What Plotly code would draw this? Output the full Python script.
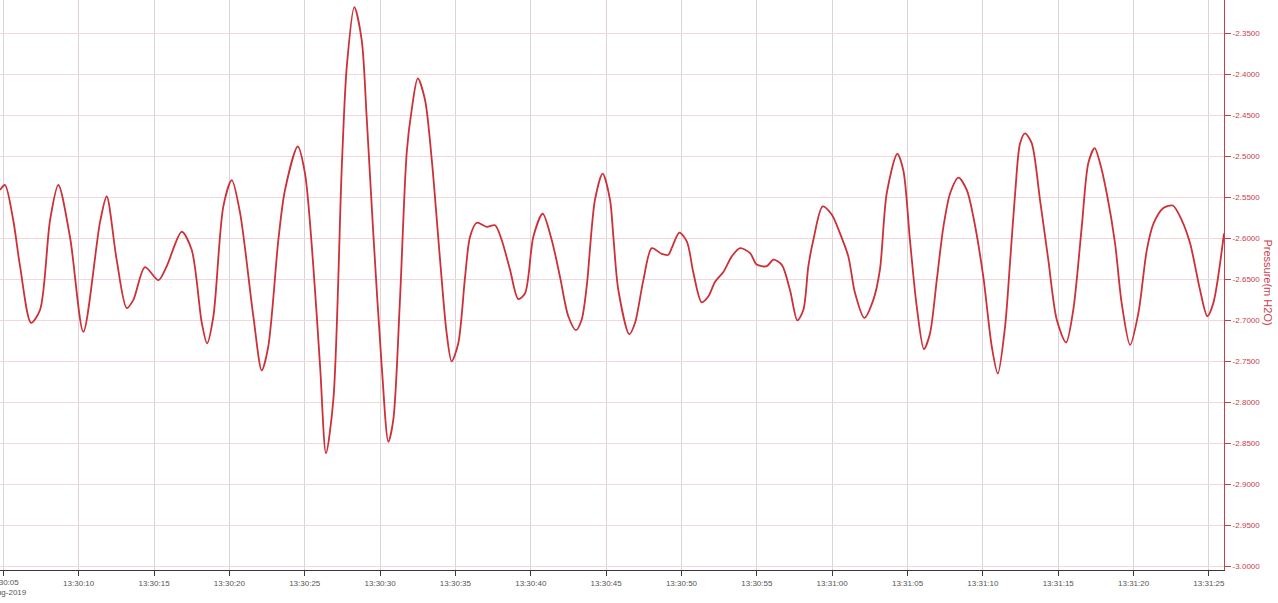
import pandas as pd
import plotly.graph_objects as go

# seconds after 13:30:05 and pressure (m H2O)
t_sec = [-0.22, 0.11, 0.66, 1.11, 1.84, 2.44, 3.10, 3.65, 4.43, 5.31, 6.42, 6.86, 7.52, 8.19, 8.63,
         9.40, 10.29, 10.84, 11.84, 12.50, 13.17, 13.52, 13.94, 14.60, 15.16, 15.71, 16.59, 17.15,
         17.58, 18.25, 18.69, 19.54, 20.02, 20.57, 21.02, 21.41, 21.90, 22.46, 22.79, 23.29, 23.78,
         24.11, 24.55, 25.11, 25.55, 25.88, 26.32, 26.77, 27.10, 27.50, 27.98, 28.43, 28.98, 29.42,
         29.75, 30.19, 30.64, 30.97, 31.41, 32.08, 32.63, 33.07, 33.62, 34.17, 34.62, 35.17, 35.79,
         36.39, 36.94, 37.49, 38.00, 38.38, 38.71, 39.26, 39.77, 40.26, 40.48, 40.81, 41.54, 41.92,
         42.47, 43.03, 43.69, 44.13, 44.35, 44.86, 45.36, 45.79, 46.34, 46.78, 47.23, 47.78, 48.34,
         48.89, 49.55, 49.99, 50.66, 51.10, 51.65, 52.20, 52.69, 53.09, 53.42, 53.75, 54.37, 54.97,
         55.52, 56.07, 56.52, 57.13, 57.73, 58.17, 58.62, 59.32, 59.72, 60.16, 60.61, 61.09, 61.49,
         61.94, 62.38, 62.83, 63.38, 63.93, 64.37, 65.03, 65.59, 65.99, 66.47, 66.80, 67.14, 67.47,
         67.80, 68.24, 68.79, 69.34, 69.90, 70.52, 71.00, 71.56, 72.00, 72.42, 72.77, 73.22, 73.77,
         74.21, 74.77, 75.32, 75.88, 76.32, 76.98, 77.60, 78.20, 78.75, 79.41, 79.89, 80.29, 81.00]
pressure = [-2.541, -2.535, -2.578, -2.634, -2.703, -2.687, -2.578, -2.535, -2.599, -2.714, -2.580,
            -2.549, -2.626, -2.685, -2.675, -2.635, -2.651, -2.634, -2.592, -2.614, -2.703, -2.728,
            -2.695, -2.561, -2.529, -2.569, -2.695, -2.761, -2.732, -2.602, -2.541, -2.488, -2.521,
            -2.634, -2.756, -2.862, -2.797, -2.513, -2.391, -2.318, -2.358, -2.452, -2.594, -2.756,
            -2.848, -2.821, -2.675, -2.495, -2.443, -2.405, -2.431, -2.504, -2.626, -2.716, -2.750,
            -2.728, -2.647, -2.598, -2.581, -2.586, -2.584, -2.602, -2.638, -2.674, -2.667, -2.598,
            -2.570, -2.602, -2.647, -2.695, -2.712, -2.699, -2.659, -2.553, -2.521, -2.553, -2.598,
            -2.663, -2.717, -2.703, -2.651, -2.612, -2.619, -2.620, -2.612, -2.593, -2.604, -2.642,
            -2.678, -2.671, -2.653, -2.641, -2.622, -2.612, -2.618, -2.632, -2.634, -2.626, -2.632,
            -2.663, -2.700, -2.687, -2.634, -2.602, -2.561, -2.571, -2.594, -2.622, -2.667, -2.697,
            -2.675, -2.638, -2.545, -2.497, -2.517, -2.602, -2.683, -2.735, -2.716, -2.651, -2.586,
            -2.545, -2.526, -2.541, -2.574, -2.647, -2.732, -2.765, -2.708, -2.630, -2.545, -2.484,
            -2.472, -2.484, -2.553, -2.626, -2.699, -2.727, -2.687, -2.586, -2.508, -2.490, -2.508,
            -2.545, -2.606, -2.679, -2.730, -2.691, -2.614, -2.582, -2.563, -2.560, -2.578, -2.606,
            -2.663, -2.695, -2.679, -2.594]

base_time = "2019-08-16 13:30:05"
date_label = "16-Aug-2019"
y_ticks = [-2.35, -2.40, -2.45, -2.50, -2.55, -2.60, -2.65, -2.70, -2.75, -2.80, -2.85, -2.90, -2.95, -3.00]
y_title = "Pressure(m H2O)"

t0 = pd.Timestamp(base_time)
times = [t0 + pd.Timedelta(seconds=s) for s in t_sec]
x_ticks = [t0 + pd.Timedelta(seconds=5 * i) for i in range(17)]
x_labels = [x.strftime("%H:%M:%S") for x in x_ticks]

fig = go.Figure()
fig.add_trace(go.Scatter(x=times, y=pressure, mode="lines",
                         line=dict(color="#cc3038", width=1.8, shape="spline", smoothing=0.8),
                         hoverinfo="skip", showlegend=False))

red = "#c8404c"
grey = "#555555"
fnt = "Liberation Sans"
fig.update_layout(
    width=1278, height=603,
    margin=dict(l=0, r=54, t=0, b=33),
    paper_bgcolor="white", plot_bgcolor="white",
    font=dict(family=fnt, size=8, color=grey),
    xaxis=dict(
        type="date",
        range=[t0 + pd.Timedelta(seconds=-0.22), t0 + pd.Timedelta(seconds=81.0)],
        tickvals=x_ticks, ticktext=[""] + x_labels[1:],
        showgrid=True, gridcolor="#ddd3d8", gridwidth=1,
        showline=True, linecolor="#3a3a3a", linewidth=1,
        ticks="outside", ticklen=5, tickcolor="#3a3a3a",
        tickfont=dict(family=fnt, size=8, color=grey),
        zeroline=False,
    ),
    yaxis=dict(
        side="right",
        range=[-3.0044, -2.3094],
        tickvals=y_ticks, ticktext=[f"{v:.4f}" for v in y_ticks],
        showgrid=True, gridcolor="#f1d6da", gridwidth=1,
        showline=True, linecolor=red, linewidth=1,
        ticks="outside", ticklen=6, tickcolor=red,
        tickfont=dict(family=fnt, size=8, color=red),
        zeroline=False,
    ),
    annotations=[
        dict(text=y_title, xref="paper", yref="y", x=1.0359, y=-2.6537,
             textangle=90, showarrow=False, font=dict(family=fnt, size=11, color=red),
             xanchor="center", yanchor="middle"),
        dict(text=x_labels[0] + "<br>" + date_label, xref="x", yref="paper", x=t0, y=0, yshift=-6,
             showarrow=False, font=dict(family=fnt, size=8, color=grey),
             xanchor="center", yanchor="top", align="center"),
    ],
)

fig.write_html("out.html", config={"displayModeBar": False},
               post_script="document.body.style.margin='0px';")
